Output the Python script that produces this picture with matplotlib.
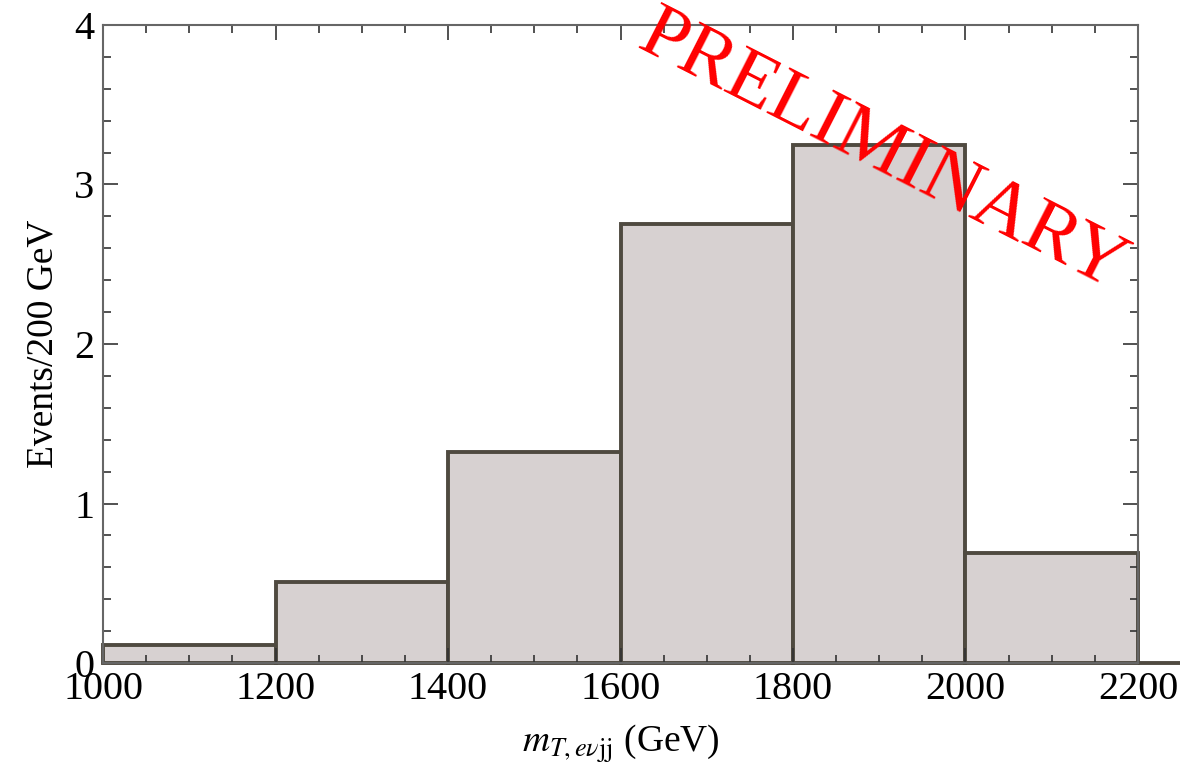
import numpy as np
import matplotlib
matplotlib.use("Agg")
import matplotlib.pyplot as plt
from matplotlib.ticker import MultipleLocator

# bin edges (GeV) and events per 200 GeV
bin_edges = [1000, 1200, 1400, 1600, 1800, 2000, 2200, 2250]
events = [0.11, 0.51, 1.32, 2.75, 3.25, 0.69, 0.0]

plt.rcParams['font.family'] = ['Liberation Serif', 'DejaVu Serif']
plt.rcParams['mathtext.fontset'] = 'stix'

fig = plt.figure(figsize=(11.8, 7.78), dpi=100)
ax = fig.add_axes([0.0873, 0.1478, 0.8771, 0.8201])

lefts = np.array(bin_edges[:-1])
widths = np.diff(bin_edges)
bars = ax.bar(lefts, events, width=widths, align='edge',
              color='#d7d1d1', edgecolor='#4f4a40', linewidth=2.8)
for b in bars:
    b.set_clip_on(False)

ax.set_xlim(1000, 2200)
ax.set_ylim(0, 4)
ax.xaxis.set_major_locator(MultipleLocator(200))
ax.xaxis.set_minor_locator(MultipleLocator(50))
ax.yaxis.set_major_locator(MultipleLocator(1))
ax.yaxis.set_minor_locator(MultipleLocator(0.2))
ax.tick_params(which='both', direction='in', top=True, right=True,
               color='#333333', width=1.2)
ax.tick_params(which='major', length=11, labelsize=29, pad=6)
ax.tick_params(which='minor', length=6)
for s in ax.spines.values():
    s.set_color('#666666')
    s.set_linewidth(1.5)

ax.set_xlabel(r'$m_{T,e\nu \mathrm{jj}}$ (GeV)', fontsize=27, labelpad=10)
ax.set_ylabel('Events/200 GeV', fontsize=27, labelpad=10)

# watermark
ax.text(0.753, 0.80, 'PRELIMINARY', transform=ax.transAxes, color='red',
        fontsize=57, rotation=-27, ha='center', va='center',
        rotation_mode='anchor', clip_on=False)

fig.savefig('out.png', dpi=100)
